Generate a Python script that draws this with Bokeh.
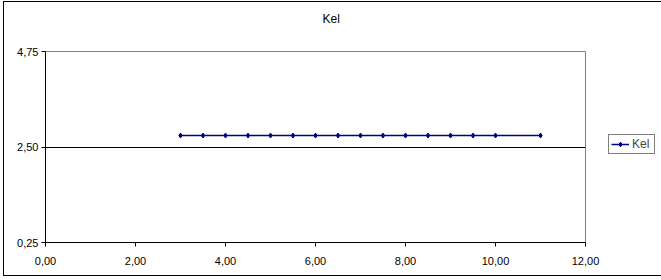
from bokeh.plotting import figure
from bokeh.layouts import column
from bokeh.models import (Range1d, FixedTicker, CustomJSTickFormatter, Legend, LegendItem, Title)
from bokeh.embed import file_html
from bokeh.resources import INLINE

# Data
x_values = [3.0, 3.5, 4.0, 4.5, 5.0, 5.5, 6.0, 6.5, 7.0, 7.5, 8.0, 8.5, 9.0, 9.5, 10.0, 11.0]
kel_values = [2.77] * 16
series_name = "Kel"
chart_title = "Kel"
x_ticks = [0, 2, 4, 6, 8, 10, 12]
y_ticks = [0.25, 2.50, 4.75]

FONT = "Liberation Sans"
FS = "11px"

p = figure(width=653, height=273, output_backend="svg", toolbar_location=None,
           x_range=Range1d(0, 12), y_range=Range1d(0.25, 4.75),
           min_border_left=41, min_border_right=72, min_border_top=49, min_border_bottom=33)
p.frame_width = 540
p.frame_height = 191

p.background_fill_color = "white"
p.border_fill_color = "white"
p.outline_line_color = "#808080"
p.outline_line_width = 1

# spacer (nearest the frame) then the real title above it
p.add_layout(Title(text=" ", standoff=10, text_font=FONT, text_font_size="12px"), "above")
p.add_layout(Title(text=chart_title, align="left", offset=277, standoff=0,
                   text_font=FONT, text_font_size="12px", text_font_style="normal",
                   text_color="black"), "above")

fmt = CustomJSTickFormatter(code="return tick.toFixed(2).replace('.', ',');")
for ax in (p.xaxis[0], p.yaxis[0]):
    ax.formatter = fmt
    ax.axis_line_color = "black"
    ax.major_tick_line_color = "black"
    ax.major_tick_in = 0
    ax.major_tick_out = 4
    ax.minor_tick_line_color = None
    ax.major_label_text_font = FONT
    ax.major_label_text_font_size = FS
    ax.major_label_text_color = "black"
p.xaxis[0].ticker = FixedTicker(ticks=x_ticks)
p.yaxis[0].ticker = FixedTicker(ticks=y_ticks)
p.yaxis[0].major_label_standoff = 3
p.xaxis[0].major_label_standoff = 10

p.xgrid.visible = False
p.ygrid[0].ticker = FixedTicker(ticks=[2.5])
p.ygrid[0].grid_line_color = "black"
p.ygrid[0].grid_line_width = 1

r_line = p.line(x_values, kel_values, line_color="#000080", line_width=1.5)
r_pts = p.scatter(x_values, kel_values, marker="diamond", size=5, fill_color="#000080",
                  line_color="#000080")

legend = Legend(items=[LegendItem(label=series_name, renderers=[r_line, r_pts])],
                location=(23, 88), orientation="vertical",
                border_line_color="black", border_line_width=1,
                background_fill_color="white", background_fill_alpha=1,
                label_text_font=FONT, label_text_font_size="12px",
                label_standoff=3, glyph_width=18, glyph_height=12,
                label_height=12, padding=2, margin=0, spacing=0)
p.add_layout(legend, "right")

# outer chart border as a bordered container
layout = column(p, margin=(1, 0, 0, 3), styles={"border": "1px solid black"})

open("out.html", "w").write(file_html(layout, INLINE))
